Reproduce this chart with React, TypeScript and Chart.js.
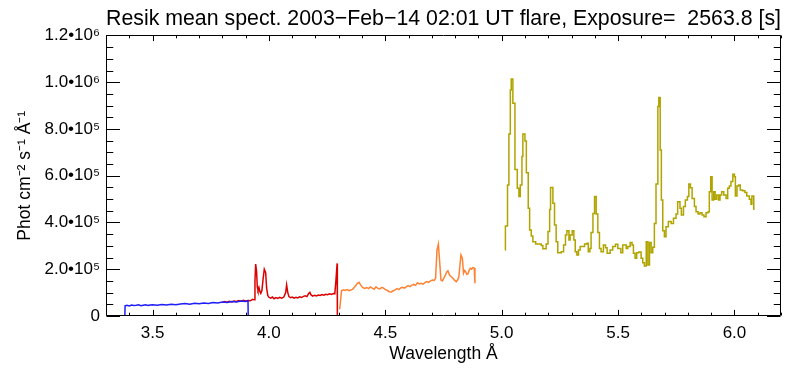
import React, { useEffect, useRef } from 'react';
import { Chart, registerables } from 'chart.js';

Chart.register(...registerables);

const titleText = 'Resik mean spect. 2003\u2212Feb\u221214 02:01 UT flare, Exposure=  2563.8 [s]';
const xTitle = 'Wavelength \u00C5';
const yTitle = 'Phot cm\u207B\u00B2 s\u207B\u00B9 \u00C5\u207B\u00B9';

const xMin = 3.3;
const xMax = 6.2;
const yMin = 0;
const yMax = 1200000;

const xTickValues = [3.5, 4.0, 4.5, 5.0, 5.5, 6.0];
const xTickLabels = ['3.5', '4.0', '4.5', '5.0', '5.5', '6.0'];
const yTickValues = [0, 200000, 400000, 600000, 800000, 1000000, 1200000];
const yTickLabels = ['0', '2.0\u202210\u2075', '4.0\u202210\u2075', '6.0\u202210\u2075', '8.0\u202210\u2075', '1.0\u202210\u2076', '1.2\u202210\u2076'];

// Channel 1 (blue)
const ch1Wave = [3.381, 3.382, 3.39, 3.40, 3.41, 3.42, 3.43, 3.44, 3.45, 3.46, 3.47, 3.48, 3.49, 3.50, 3.52, 3.54, 3.56, 3.58, 3.60, 3.62, 3.64, 3.66, 3.68, 3.70, 3.72, 3.74, 3.76, 3.78, 3.80, 3.82, 3.84, 3.86, 3.88, 3.90, 3.910, 3.911];
const ch1Flux = [0, 44000, 46000, 43000, 47000, 45000, 46000, 48000, 44000, 46000, 48000, 45000, 47000, 48000, 46000, 49000, 47000, 50000, 48000, 51000, 53000, 50000, 54000, 52000, 56000, 54000, 58000, 56000, 60000, 58000, 62000, 60000, 64000, 62000, 65000, 0];

// Channel 2 (red)
const ch2Wave = [3.800, 3.810, 3.820, 3.830, 3.840, 3.850, 3.860, 3.870, 3.880, 3.890, 3.900, 3.910, 3.920, 3.930, 3.936, 3.940, 3.943, 3.947, 3.950, 3.953, 3.957, 3.961, 3.965, 3.970, 3.975, 3.980, 3.986, 3.990, 3.995, 4.000, 4.008, 4.015, 4.022, 4.030, 4.038, 4.046, 4.055, 4.064, 4.072, 4.076, 4.081, 4.086, 4.093, 4.100, 4.108, 4.116, 4.124, 4.132, 4.140, 4.148, 4.156, 4.163, 4.170, 4.176, 4.181, 4.188, 4.196, 4.204, 4.212, 4.220, 4.228, 4.236, 4.244, 4.252, 4.260, 4.268, 4.276, 4.283, 4.288, 4.293, 4.294];
const ch2Flux = [58000, 62000, 59000, 63000, 60000, 64000, 62000, 66000, 63000, 67000, 64000, 66000, 65000, 71000, 69000, 150000, 222000, 190000, 125000, 111000, 122000, 105000, 97000, 110000, 160000, 200000, 185000, 120000, 88000, 80000, 76000, 81000, 74000, 79000, 75000, 80000, 76000, 81000, 100000, 133000, 100000, 83000, 78000, 81000, 76000, 80000, 77000, 82000, 79000, 84000, 86000, 83000, 95000, 101000, 90000, 85000, 89000, 86000, 90000, 88000, 92000, 89000, 93000, 91000, 95000, 92000, 96000, 95000, 154000, 225000, 0];

// Channel 3 (orange)
const ch3Wave = [4.304, 4.312, 4.320, 4.328, 4.336, 4.344, 4.352, 4.360, 4.369, 4.380, 4.387, 4.394, 4.402, 4.411, 4.420, 4.428, 4.436, 4.444, 4.452, 4.460, 4.468, 4.476, 4.484, 4.492, 4.500, 4.508, 4.516, 4.526, 4.534, 4.542, 4.550, 4.558, 4.566, 4.574, 4.582, 4.590, 4.598, 4.606, 4.614, 4.622, 4.630, 4.638, 4.646, 4.654, 4.662, 4.670, 4.678, 4.686, 4.694, 4.702, 4.710, 4.716, 4.722, 4.728, 4.734, 4.739, 4.745, 4.751, 4.758, 4.764, 4.769, 4.776, 4.783, 4.791, 4.798, 4.805, 4.811, 4.816, 4.820, 4.825, 4.831, 4.836, 4.841, 4.845, 4.850, 4.855, 4.860, 4.865, 4.871, 4.876, 4.882, 4.885];
const ch3Flux = [29000, 108000, 112000, 109000, 113000, 108000, 111000, 115000, 125000, 140000, 144000, 133000, 122000, 118000, 122000, 117000, 124000, 119000, 114000, 125000, 118000, 116000, 122000, 120000, 113000, 110000, 104000, 103000, 108000, 112000, 117000, 113000, 120000, 123000, 119000, 125000, 130000, 126000, 132000, 135000, 131000, 142000, 137000, 140000, 136000, 143000, 147000, 144000, 150000, 154000, 152000, 161000, 282000, 308000, 225000, 154000, 150000, 161000, 175000, 188000, 193000, 175000, 168000, 161000, 152000, 147000, 155000, 168000, 210000, 261000, 247000, 183000, 195000, 190000, 178000, 180000, 195000, 204000, 200000, 207000, 205000, 140000];

// Channel 4 (olive), histogram steps
const ch4Wave = [5.015, 5.016, 5.025, 5.031, 5.037, 5.041, 5.048, 5.057, 5.067, 5.074, 5.080, 5.087, 5.091, 5.100, 5.106, 5.114, 5.120, 5.127, 5.134, 5.146, 5.170, 5.177, 5.191, 5.199, 5.206, 5.210, 5.220, 5.227, 5.234, 5.241, 5.256, 5.266, 5.274, 5.280, 5.289, 5.294, 5.303, 5.310, 5.316, 5.323, 5.330, 5.337, 5.356, 5.366, 5.372, 5.379, 5.384, 5.392, 5.399, 5.406, 5.413, 5.420, 5.427, 5.437, 5.446, 5.453, 5.466, 5.477, 5.489, 5.499, 5.512, 5.520, 5.535, 5.542, 5.552, 5.560, 5.566, 5.573, 5.580, 5.589, 5.599, 5.606, 5.613, 5.621, 5.628, 5.635, 5.642, 5.649, 5.656, 5.663, 5.671, 5.675, 5.681, 5.686, 5.692, 5.699, 5.706, 5.716, 5.728, 5.738, 5.749, 5.756, 5.766, 5.772, 5.781, 5.789, 5.798, 5.804, 5.811, 5.818, 5.828, 5.835, 5.844, 5.852, 5.861, 5.869, 5.878, 5.887, 5.892, 5.898, 5.904, 5.911, 5.917, 5.924, 5.932, 5.938, 5.945, 5.954, 5.964, 5.971, 5.978, 5.985, 5.993, 6.000, 6.004, 6.011, 6.018, 6.025, 6.035, 6.045, 6.053, 6.064, 6.071, 6.075, 6.083];
const ch4Flux = [282000, 385000, 560000, 779000, 967000, 1014000, 910000, 627000, 546000, 511000, 560000, 682000, 779000, 749000, 613000, 461000, 368000, 342000, 318000, 308000, 302000, 288000, 308000, 361000, 456000, 550000, 482000, 389000, 318000, 271000, 275000, 304000, 347000, 365000, 325000, 347000, 365000, 325000, 275000, 261000, 282000, 297000, 308000, 311000, 275000, 289000, 357000, 439000, 511000, 436000, 357000, 289000, 275000, 304000, 292000, 268000, 282000, 297000, 307000, 289000, 271000, 304000, 289000, 297000, 314000, 304000, 268000, 247000, 271000, 274000, 247000, 228000, 214000, 318000, 218000, 314000, 271000, 294000, 396000, 565000, 896000, 935000, 710000, 496000, 365000, 339000, 382000, 404000, 396000, 418000, 436000, 489000, 461000, 432000, 468000, 496000, 511000, 565000, 549000, 503000, 468000, 446000, 436000, 442000, 432000, 425000, 442000, 446000, 532000, 596000, 496000, 532000, 499000, 518000, 496000, 518000, 532000, 518000, 503000, 546000, 556000, 575000, 606000, 596000, 513000, 556000, 560000, 539000, 536000, 528000, 513000, 499000, 478000, 513000, 453000];

const ch1Color = 'rgb(30,30,250)';
const ch2Color = 'rgb(220,0,0)';
const ch3Color = 'rgb(255,130,50)';
const ch4Color = 'rgb(176,164,0)';

const FONT = "'Liberation Sans', Arial, Helvetica, sans-serif";

function zip(xs: number[], ys: number[]) {
  return xs.map((x, i) => ({ x, y: ys[i] }));
}

const framePlugin = {
  id: 'idlFrame',
  afterDatasetsDraw(chart: any) {
    const { ctx, chartArea, scales } = chart;
    const { left, right, top, bottom } = chartArea;
    const xs = scales.x;
    const ys = scales.y;
    ctx.save();
    ctx.strokeStyle = '#000';
    ctx.lineWidth = 1;
    const L = Math.round(left) + 0.5;
    const R = Math.round(right) - 0.5;
    const T = Math.round(top) + 0.5;
    const B = Math.round(bottom) - 0.5;
    ctx.beginPath();
    ctx.rect(L, T, R - L, B - T);
    ctx.stroke();
    const h = bottom - top;
    const w = right - left;
    const xMajLen = 0.02 * h;
    const yMajLen = 0.02 * w;
    ctx.beginPath();
    for (let i = 33; i <= 62; i++) {
      const v = i / 10;
      const px = Math.round(xs.getPixelForValue(v)) + 0.5;
      const len = i % 5 === 0 ? xMajLen : xMajLen / 2;
      ctx.moveTo(px, B);
      ctx.lineTo(px, B - len);
      ctx.moveTo(px, T);
      ctx.lineTo(px, T + len);
    }
    for (let i = 0; i <= 24; i++) {
      const v = i * 50000;
      const py = Math.round(ys.getPixelForValue(v)) + 0.5;
      const len = i % 4 === 0 ? yMajLen : yMajLen / 2;
      ctx.moveTo(L, py);
      ctx.lineTo(L + len, py);
      ctx.moveTo(R, py);
      ctx.lineTo(R - len, py);
    }
    ctx.stroke();
    ctx.restore();
  },
};

export default function App() {
  const ref = useRef<HTMLCanvasElement | null>(null);
  useEffect(() => {
    if (!ref.current) return;
    const common = { pointRadius: 0, borderWidth: 1.5, fill: false, tension: 0 };
    const chart = new Chart(ref.current, {
      type: 'line',
      data: {
        datasets: [
          { ...common, data: zip(ch1Wave, ch1Flux), borderColor: ch1Color },
          { ...common, data: zip(ch2Wave, ch2Flux), borderColor: ch2Color },
          { ...common, data: zip(ch3Wave, ch3Flux), borderColor: ch3Color },
          { ...common, data: zip(ch4Wave, ch4Flux), borderColor: ch4Color, stepped: 'before' },
        ] as any,
      },
      options: {
        responsive: false,
        animation: false,
        devicePixelRatio: 1,
        events: [],
        layout: { padding: { left: 0, right: 25, top: 0, bottom: 0 } },
        plugins: {
          legend: { display: false },
          tooltip: { enabled: false },
          title: {
            display: true,
            text: titleText,
            fullSize: false,
            color: '#000',
            font: { family: FONT, size: 22.4, weight: 'normal' },
            padding: { top: 5, bottom: 3.6 },
          },
        },
        scales: {
          x: {
            type: 'linear',
            min: xMin,
            max: xMax,
            grid: { display: false, drawTicks: false },
            border: { display: false },
            afterFit: (s: any) => { s.height = 53; },
            afterBuildTicks: (s: any) => { s.ticks = xTickValues.map((v) => ({ value: v })); },
            ticks: {
              color: '#000',
              padding: 7,
              maxRotation: 0,
              autoSkip: false,
              font: { family: FONT, size: 17 },
              callback: (v: any) => {
                const i = xTickValues.findIndex((t) => Math.abs(t - v) < 1e-9);
                return i >= 0 ? xTickLabels[i] : '';
              },
            },
            title: {
              display: true,
              text: xTitle,
              color: '#000',
              font: { family: FONT, size: 17.5 },
              padding: { top: 0, bottom: 4.5 },
            },
          },
          y: {
            type: 'linear',
            min: yMin,
            max: yMax,
            grid: { display: false, drawTicks: false },
            border: { display: false },
            afterFit: (s: any) => { s.width = 106; },
            afterBuildTicks: (s: any) => { s.ticks = yTickValues.map((v) => ({ value: v })); },
            ticks: {
              color: '#000',
              padding: 6,
              autoSkip: false,
              font: { family: FONT, size: 17 },
              callback: (v: any) => {
                const i = yTickValues.findIndex((t) => Math.abs(t - v) < 1e-6);
                return i >= 0 ? yTickLabels[i] : '';
              },
            },
            title: {
              display: true,
              text: yTitle,
              color: '#000',
              font: { family: FONT, size: 17.5 },
              padding: { top: 15, bottom: 0 },
            },
          },
        },
      } as any,
      plugins: [framePlugin],
    });
    return () => chart.destroy();
  }, []);
  return (
    <div style={{ position: 'absolute', left: 0, top: 0, width: 806, height: 369, background: '#fff' }}>
      <canvas ref={ref} width={806} height={369} style={{ display: 'block', width: 806, height: 369 }} />
    </div>
  );
}
